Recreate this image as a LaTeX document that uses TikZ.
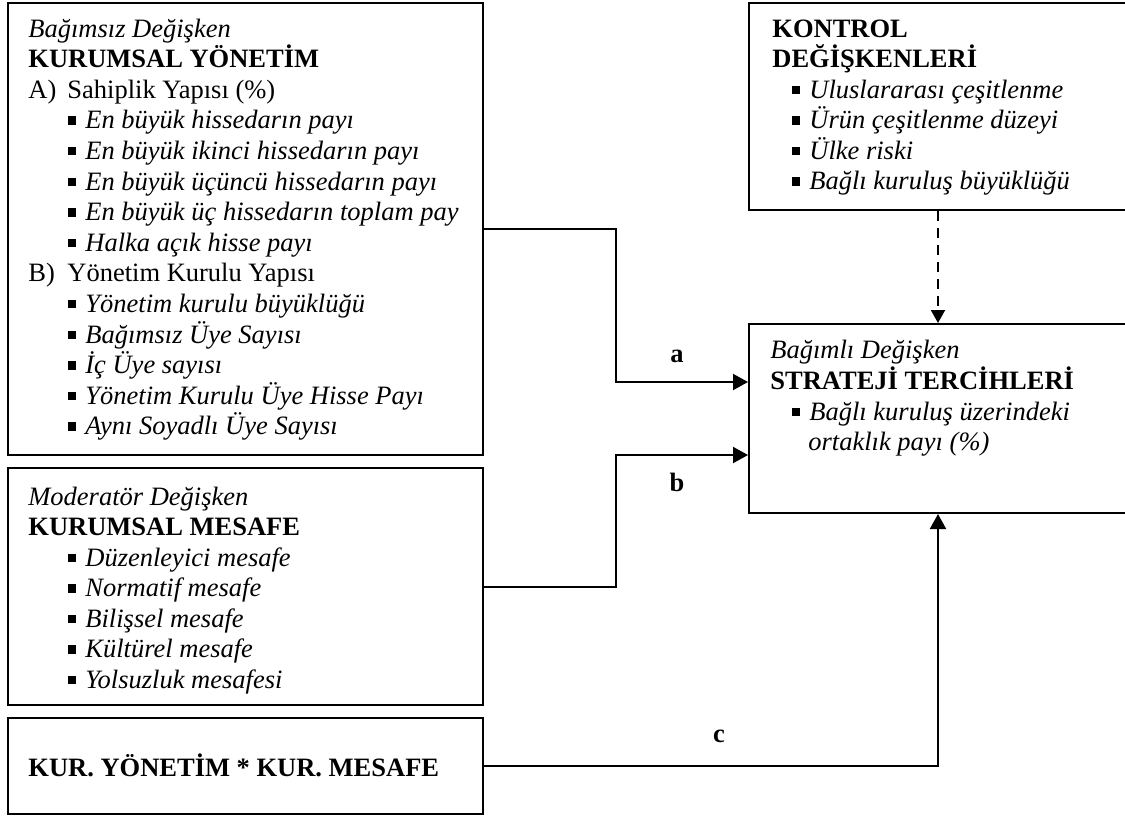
\documentclass[tikz,border=0pt]{standalone}
\usepackage{fontspec}
\setmainfont{Liberation Serif}
\usetikzlibrary{arrows.meta,fit}
\newcommand\fs{\fontsize{13.25pt}{15pt}\selectfont}
\newcommand\bul{\rule[2pt]{4pt}{4.2pt}\hspace{4.5pt}}
\begin{document}
\begin{tikzpicture}[x=0.5pt,y=-0.5pt,
  box/.style={draw, line width=1pt, inner sep=0pt},
  ln/.style={anchor=base west, inner sep=0pt, font=\fs},
  lbl/.style={anchor=base, inner sep=0pt, font=\fs\bfseries},
  arr/.style={line width=1pt, -{Triangle[length=7.5pt,width=8pt]}},
  darr/.style={line width=1pt, dash pattern=on 5pt off 3.5pt, -{Triangle[length=6.5pt,width=7pt]}}]
\useasboundingbox (0,0) rectangle (1125,821);
% boxes
\node[box, fit={(8,3) (483,455)}] (box1) {};
\node[box, fit={(8,468) (483,705)}] (box2) {};
\node[box, fit={(8,718) (483,814)}] (box3) {};
\node[box, fit={(749,3) (1127,210)}] (box4) {};
\node[box, fit={(749,324) (1127,513)}] (box5) {};
% box1 text
\node[ln] (t1a) at (28,37) {\textit{Bağımsız Değişken}};
\node[ln] (t1b) at (28,67.6) {\textbf{KURUMSAL YÖNETİM}};
\node[ln] (t1c) at (28,98.2) {A)};
\node[ln] (t1d) at (67,98.2) {Sahiplik Yapısı (\%)};
\node[ln] (t1e) at (68,128.8) {\bul\textit{En büyük hissedarın payı}};
\node[ln] (t1f) at (68,159.4) {\bul\textit{En büyük ikinci hissedarın payı}};
\node[ln] (t1g) at (68,190) {\bul\textit{En büyük üçüncü hissedarın payı}};
\node[ln] (t1h) at (68,220.6) {\bul\textit{En büyük üç hissedarın toplam pay}};
\node[ln] (t1i) at (68,251.2) {\bul\textit{Halka açık hisse payı}};
\node[ln] (t1j) at (28,281.8) {B)};
\node[ln] (t1k) at (67,281.8) {Yönetim Kurulu Yapısı};
\node[ln] (t1l) at (68,312.4) {\bul\textit{Yönetim kurulu büyüklüğü}};
\node[ln] (t1m) at (68,343) {\bul\textit{Bağımsız Üye Sayısı}};
\node[ln] (t1n) at (68,373.6) {\bul\textit{İç Üye sayısı}};
\node[ln] (t1o) at (68,404.2) {\bul\textit{Yönetim Kurulu Üye Hisse Payı}};
\node[ln] (t1p) at (68,434.8) {\bul\textit{Aynı Soyadlı Üye Sayısı}};
% box2 text
\node[ln] (t2a) at (28,505) {\textit{Moderatör Değişken}};
\node[ln] (t2b) at (28,535.5) {\textbf{KURUMSAL MESAFE}};
\node[ln] (t2c) at (68,566) {\bul\textit{Düzenleyici mesafe}};
\node[ln] (t2d) at (68,596.5) {\bul\textit{Normatif mesafe}};
\node[ln] (t2e) at (68,627) {\bul\textit{Bilişsel mesafe}};
\node[ln] (t2f) at (68,657.5) {\bul\textit{Kültürel mesafe}};
\node[ln] (t2g) at (68,688) {\bul\textit{Yolsuzluk mesafesi}};
% box3 text
\node[ln] (t3a) at (28,776) {\textbf{KUR. YÖNETİM * KUR. MESAFE}};
% box4 text
\node[ln] (t4a) at (772,37) {\textbf{KONTROL}};
\node[ln] (t4b) at (772,67.5) {\textbf{DEĞİŞKENLERİ}};
\node[ln] (t4c) at (792,98) {\bul\textit{Uluslararası çeşitlenme}};
\node[ln] (t4d) at (792,128.5) {\bul\textit{Ürün çeşitlenme düzeyi}};
\node[ln] (t4e) at (792,159) {\bul\textit{Ülke riski}};
\node[ln] (t4f) at (792,189.5) {\bul\textit{Bağlı kuruluş büyüklüğü}};
% box5 text
\node[ln] (t5a) at (770,358) {\textit{Bağımlı Değişken}};
\node[ln] (t5b) at (770,389) {\textbf{STRATEJİ TERCİHLERİ}};
\node[ln] (t5c) at (792,420) {\bul\textit{Bağlı kuruluş üzerindeki}};
\node[ln] (t5d) at (808,450) {\textit{ortaklık payı (\%)}};
% connectors
\draw[arr] (box1.east |- 0,229) -- (616,229) -- (616,382) -- (box5.west |- 0,382);
\draw[arr] (box2.east |- 0,587) -- (616,587) -- (616,455) -- (box5.west |- 0,455);
\draw[arr] (box3.east |- 0,766) -- (938,766) -- (box5.south -| 938,0);
\draw[darr] (box4.south -| 938,0) -- (box5.north -| 938,0);
% labels
\node[lbl] (la) at (677,362) {a};
\node[lbl] (lb) at (677,491) {b};
\node[lbl] (lc) at (719,742) {c};
\end{tikzpicture}
\end{document}
